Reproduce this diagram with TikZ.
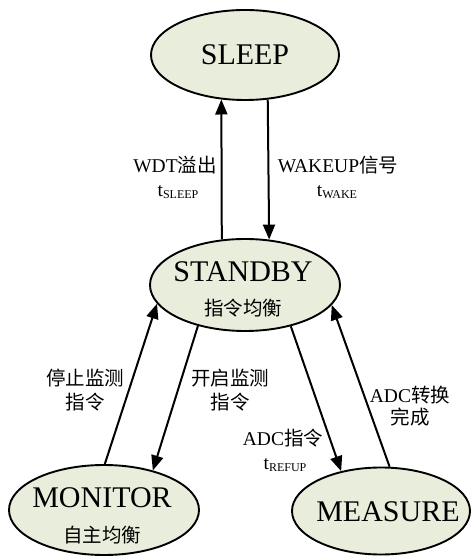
\documentclass[tikz,border=0pt]{standalone}
\usepackage{fontspec}
\setmainfont{Liberation Serif}
\newfontfamily\cjk{Noto Sans CJK SC}
\usetikzlibrary{arrows.meta,shapes.geometric}
\definecolor{statefill}{RGB}{233,237,220}
\newcommand\mysub[1]{\raisebox{-1.5pt}{\fontsize{12}{12}\selectfont #1}}
\begin{document}
\begin{tikzpicture}[x=1pt,y=1pt,
  state/.style={ellipse, draw, line width=1.9pt, fill=statefill, inner sep=0pt},
  arr/.style={line width=2pt, -{Triangle[length=15pt,width=12pt]}},
  big/.style={font=\fontsize{30}{32}\selectfont, inner sep=0pt},
  lbl/.style={font=\fontsize{19.5}{21}\selectfont, inner sep=0pt, align=center}]
\useasboundingbox (0,0) rectangle (472,557);
% states
\node[state, minimum width=188, minimum height=90, big] (sleep) at (245,502) {SLEEP};
\node[state, minimum width=190, minimum height=92] (standby) at (245,272) {};
\node[big] (standbyt) at (243,285) {STANDBY};
\node[lbl] (standbys) at (243,249) {\cjk 指令均衡};
\node[state, minimum width=190, minimum height=90] (monitor) at (104,47) {};
\node[big] (monitort) at (102,59) {MONITOR};
\node[lbl] (monitors) at (102,22) {\cjk 自主均衡};
\node[state, minimum width=178, minimum height=87] (measure) at (381,46) {};
\node[big] (measuret) at (388,45) {MEASURE};
% connectors
\draw[arr] (standby.117.3) -- (sleep.242.2);
\draw[arr] (sleep.297.8) -- (standby.62.7);
\draw[arr] (monitor.89) -- (standby.192.9);
\draw[arr] (standby.221.8) -- (monitor.39.6);
\draw[arr] (standby.318.2) -- (measure.135);
\draw[arr] (measure.79) -- (standby.347.5);
% labels
\node[lbl] (l1) at (175,392) {WDT{\cjk 溢出}};
\node[lbl] (l1b) at (178,365) {t\mysub{SLEEP}};
\node[lbl] (l2) at (338,392) {WAKEUP{\cjk 信号}};
\node[lbl] (l2b) at (337,365) {t\mysub{WAKE}};
\node[lbl] (l3) at (85,179) {\cjk 停止监测};
\node[lbl] (l3b) at (85,155) {\cjk 指令};
\node[lbl] (l4) at (230,179) {\cjk 开启监测};
\node[lbl] (l4b) at (230,155) {\cjk 指令};
\node[lbl] (l5) at (283,119) {ADC{\cjk 指令}};
\node[lbl] (l5b) at (285,92) {t\mysub{REFUP}};
\node[lbl] (l6) at (410,162) {ADC{\cjk 转换}};
\node[lbl] (l6b) at (410,140) {\cjk 完成};
\end{tikzpicture}
\end{document}
